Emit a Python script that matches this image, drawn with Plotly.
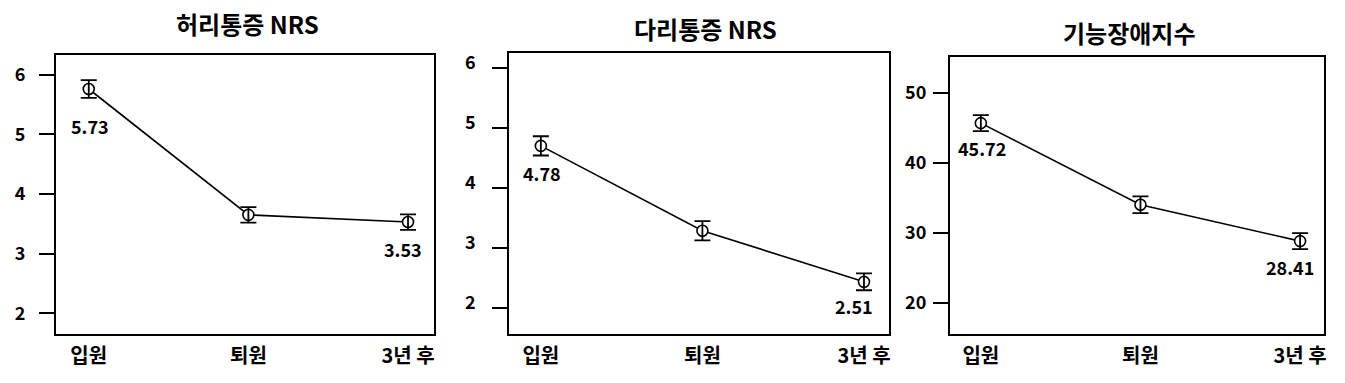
import plotly.graph_objects as go

# ---------------- data ----------------
categories = ["입원", "퇴원", "3년 후"]
titles = ["허리통증 NRS", "다리통증 NRS", "기능장애지수"]

back_mean = [5.76, 3.65, 3.53]
back_err = [0.15, 0.13, 0.13]
back_text = ["5.73", "", "3.53"]
back_ticks = [2, 3, 4, 5, 6]

leg_mean = [4.70, 3.29, 2.44]
leg_err = [0.16, 0.16, 0.14]
leg_text = ["4.78", "", "2.51"]
leg_ticks = [2, 3, 4, 5, 6]

odi_mean = [45.65, 34.0, 28.8]
odi_err = [1.15, 1.2, 1.15]
odi_text = ["45.72", "", "28.41"]
odi_ticks = [20, 30, 40, 50]

# ---------------- layout / style ----------------
W, H = 1345, 383
FONT = "Noto Sans CJK KR, Malgun Gothic, sans-serif"

panels = [
    dict(mean=back_mean, err=back_err, text=back_text, ticks=back_ticks,
         xdom=(56, 435), ytop=55, yrange=[1.653, 6.33], xrange=[-0.206, 2.163],
         standoff=10, label_as_annot=False, title_xy=(248, 24),
         lab_shift=[(1, -37), None, (-5, -27)]),
    dict(mean=leg_mean, err=leg_err, text=leg_text, ticks=leg_ticks,
         xdom=(510, 891), ytop=53, yrange=[1.573, 6.244], xrange=[-0.198, 2.155],
         standoff=16, label_as_annot=True, label_right=479, label_dy=7, title_xy=(707, 28),
         lab_shift=[(1, -27), None, (-10, -24)]),
    dict(mean=odi_mean, err=odi_err, text=odi_text, ticks=odi_ticks,
         xdom=(952, 1327), ytop=57, yrange=[15.53, 55.1], xrange=[-0.194, 2.15],
         standoff=3, label_as_annot=False, title_xy=(1132, 33),
         lab_shift=[(1, -25), None, (-10, -26)]),
]
YBOT = 334
TICKFONT = dict(family=FONT, size=18, color="black", weight="bold")

fig = go.Figure()
annotations = []

for i, p in enumerate(panels):
    n = "" if i == 0 else str(i + 1)
    xa, ya = "x" + n, "y" + n
    # connecting line
    fig.add_trace(go.Scatter(x=categories, y=p["mean"], mode="lines",
                             line=dict(color="black", width=1.6),
                             xaxis=xa, yaxis=ya, showlegend=False, hoverinfo="skip"))
    # white filled circles
    fig.add_trace(go.Scatter(x=categories, y=p["mean"], mode="markers",
                             marker=dict(symbol="circle", size=11, color="white",
                                         line=dict(color="black", width=1.6)),
                             xaxis=xa, yaxis=ya, showlegend=False))
    # error bars on top
    fig.add_trace(go.Scatter(x=categories, y=p["mean"], mode="markers",
                             marker=dict(size=1, color="rgba(0,0,0,0)"),
                             error_y=dict(type="data", array=p["err"], visible=True,
                                          color="black", thickness=1.8, width=8),
                             xaxis=xa, yaxis=ya, showlegend=False, hoverinfo="skip"))

    x0, x1 = p["xdom"]
    fig.update_layout(**{
        "xaxis" + n: dict(domain=[x0 / W, x1 / W], range=p["xrange"], anchor=ya,
                          type="category", categoryorder="array", categoryarray=categories,
                          showline=True, linecolor="black", linewidth=2, mirror=True,
                          ticks="", showgrid=False, zeroline=False,
                          tickfont=dict(family=FONT, size=20, color="black", weight="bold"),
                          ticklabelstandoff=3),
        "yaxis" + n: dict(domain=[1 - YBOT / H, 1 - p["ytop"] / H], range=p["yrange"],
                          anchor=xa, tickvals=p["ticks"],
                          showticklabels=not p["label_as_annot"],
                          showline=True, linecolor="black", linewidth=2, mirror=True,
                          ticks="outside", ticklen=15, tickwidth=2, tickcolor="black",
                          showgrid=False, zeroline=False,
                          tickfont=TICKFONT, ticklabelstandoff=p["standoff"]),
    })

    # y tick labels drawn as text when they sit off their tick marks
    if p["label_as_annot"]:
        for v in p["ticks"]:
            annotations.append(dict(x=p["label_right"] / W, y=v, xref="paper", yref=ya,
                                    text=str(v), showarrow=False, xanchor="right",
                                    yanchor="middle", yshift=p["label_dy"], font=TICKFONT))

    # value labels
    for j, t in enumerate(p["text"]):
        if not t:
            continue
        dx, dy = p["lab_shift"][j]
        annotations.append(dict(x=categories[j], y=p["mean"][j], xref=xa, yref=ya,
                                text=t, showarrow=False, xshift=dx, yshift=dy,
                                font=dict(family=FONT, size=18, color="black", weight="bold")))
    # title
    tx, ty = p["title_xy"]
    annotations.append(dict(x=tx / W, y=1 - ty / H, xref="paper", yref="paper",
                            text=titles[i], showarrow=False, xanchor="center", yanchor="middle",
                            font=dict(family=FONT, size=24, color="black", weight="bold")))

fig.update_layout(width=W, height=H, margin=dict(l=0, r=0, t=0, b=0),
                  paper_bgcolor="white", plot_bgcolor="white",
                  annotations=annotations, showlegend=False)

fig.write_html("out.html")
